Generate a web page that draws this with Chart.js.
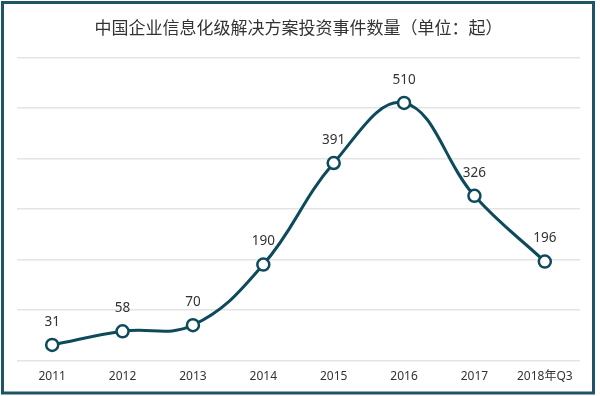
<!DOCTYPE html>
<html lang="zh">
<head>
  <meta charset="UTF-8" />
  <title>中国企业信息化级解决方案投资事件数量</title>
  <script src="https://cdn.jsdelivr.net/npm/chart.js"></script>
  <style>
    body {
      margin: 0;
      background: #fff;
    }
    #wrap {
      width: 600px;
      height: 396px;
      position: relative;
    }
  </style>
</head>
<body>
  <div id="wrap">
    <canvas id="chart"></canvas>
  </div>

  <script>
    const years = ['2011', '2012', '2013', '2014', '2015', '2016', '2017', '2018年Q3'];
    const events = [31, 58, 70, 190, 391, 510, 326, 196];

    const lineColor = '#0d4b5c';

    // labels above each point + outer frame
    const pointLabels = {
      id: 'pointLabels',
      afterDatasetsDraw(chart) {
        const ctx = chart.ctx;
        const meta = chart.getDatasetMeta(0);
        ctx.save();
        ctx.font = '13.5px "Noto Sans", "Noto Sans CJK SC", sans-serif';
        ctx.fillStyle = '#333';
        ctx.textAlign = 'center';
        ctx.textBaseline = 'middle';
        meta.data.forEach((pt, i) => {
          ctx.fillText(events[i], pt.x, pt.y - 23);
        });
        ctx.restore();
      },
      afterDraw(chart) {
        const ctx = chart.ctx;
        ctx.save();
        ctx.strokeStyle = '#1e5466';
        ctx.lineWidth = 3;
        ctx.strokeRect(2.5, 2.5, 591, 390.5);
        ctx.restore();
      }
    };

    new Chart(document.getElementById('chart'), {
      type: 'line',
      data: {
        labels: years,
        datasets: [{
          data: events,
          borderColor: lineColor,
          borderWidth: 3,
          tension: 0.4,
          pointRadius: 6,
          pointBorderWidth: 2.5,
          pointBackgroundColor: '#fff',
          pointBorderColor: lineColor
        }]
      },
      options: {
        responsive: true,
        maintainAspectRatio: false,
        animation: false,
        layout: {
          padding: { left: 17, right: 20, top: 0, bottom: 3 }
        },
        plugins: {
          legend: { display: false },
          tooltip: { enabled: false },
          title: {
            display: true,
            text: '中国企业信息化级解决方案投资事件数量（单位：起）',
            color: '#333',
            font: { size: 17, family: '"Noto Sans CJK SC", sans-serif', weight: 'normal' },
            padding: { top: 17, bottom: 20 }
          }
        },
        scales: {
          x: {
            offset: true,
            grid: { display: false, drawTicks: false },
            border: { display: false },
            ticks: {
              color: '#333',
              padding: 9,
              font: { size: 12, family: '"Noto Sans", "Noto Sans CJK SC", sans-serif' }
            }
          },
          y: {
            min: 0,
            max: 600,
            border: { display: false },
            grid: { color: '#e4e4e4', drawTicks: false, lineWidth: 1.5 },
            ticks: { display: false, stepSize: 100 }
          }
        }
      },
      plugins: [pointLabels]
    });
  </script>
</body>
</html>
